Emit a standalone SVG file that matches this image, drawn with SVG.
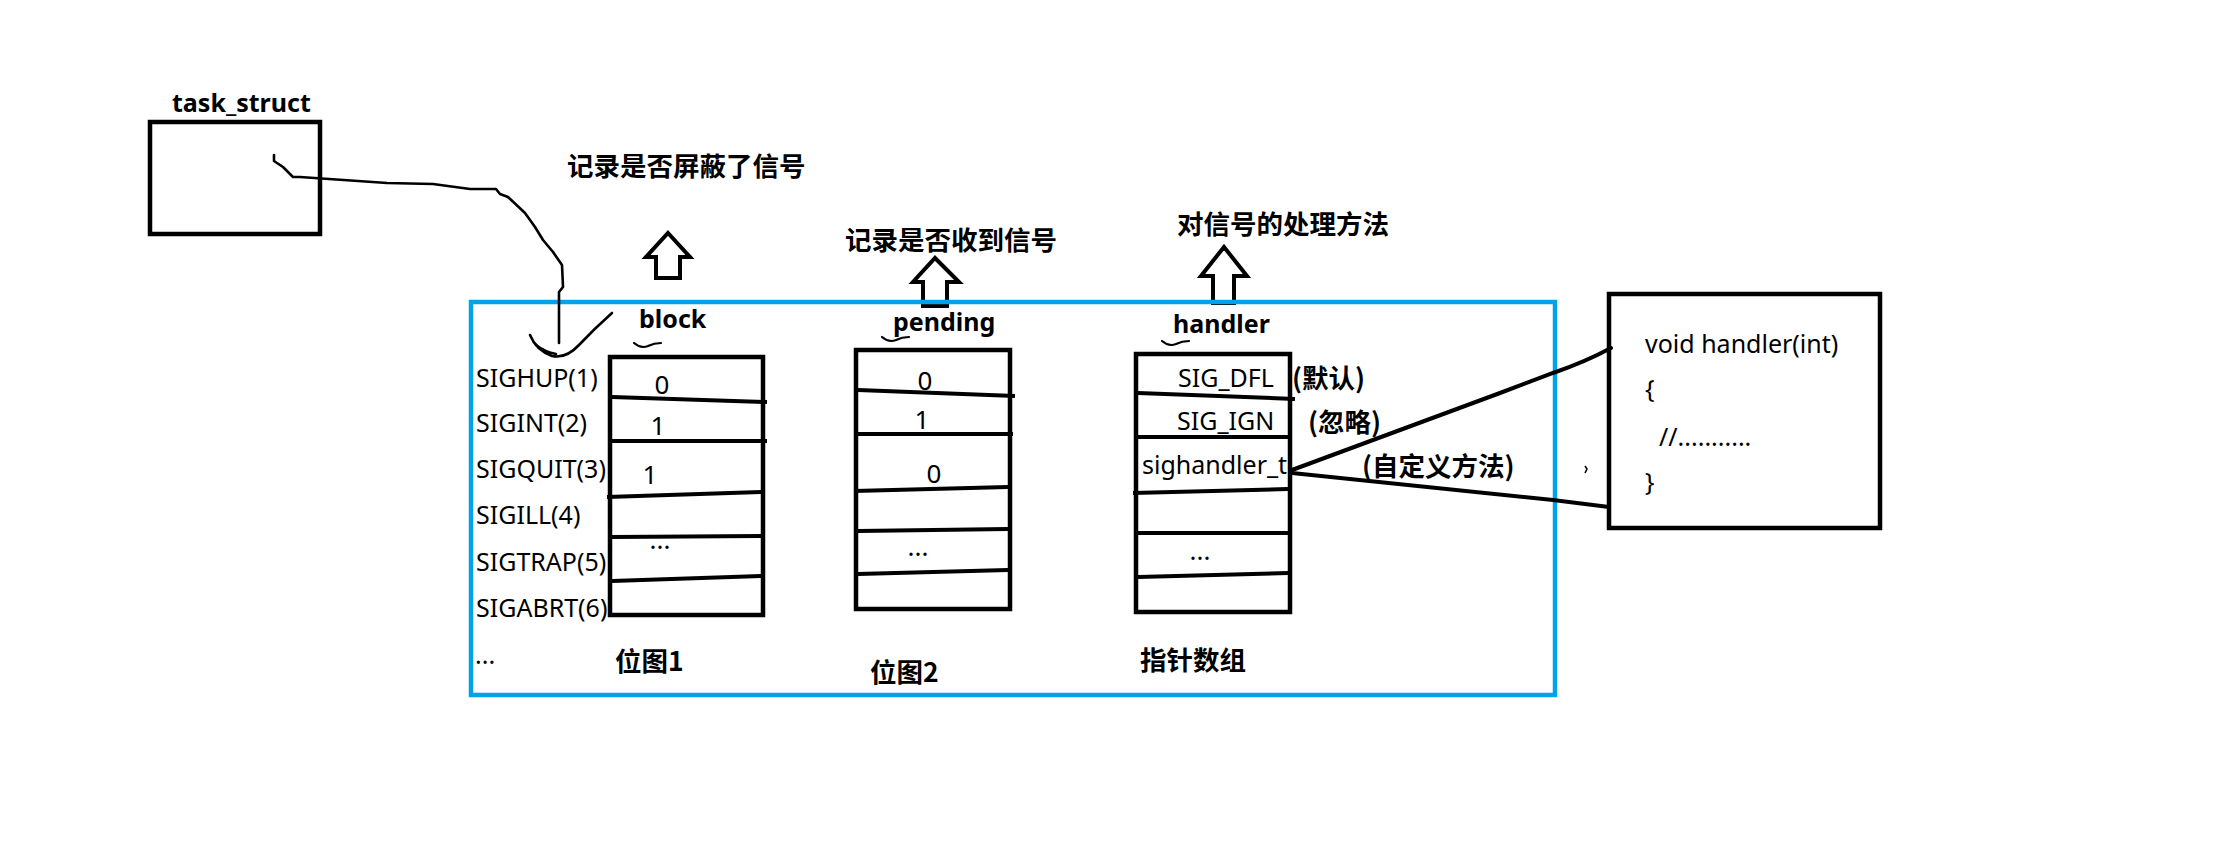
<svg xmlns="http://www.w3.org/2000/svg" width="2232" height="864" viewBox="0 0 2232 864">
<style>
.box{fill:none;stroke:#000;stroke-width:4.5}
.dv{fill:none;stroke:#000;stroke-width:4;stroke-linecap:butt}
.t{font-family:"Noto Sans","Noto Sans CJK SC",sans-serif;font-size:25px;fill:#000}
.b{font-weight:bold}
.v{font-family:"Noto Sans",sans-serif;font-size:26px;fill:#000;text-anchor:middle}
.cjk{font-family:"Noto Sans CJK SC","Noto Sans",sans-serif;font-weight:bold;font-size:26.5px;fill:#000}
.arrow{fill:#fff;stroke:#000;stroke-width:4;stroke-linejoin:miter}
.pen{fill:none;stroke:#000;stroke-width:2.6;stroke-linecap:round;stroke-linejoin:round}
.link{fill:none;stroke:#000;stroke-width:4;stroke-linecap:round}
.mark{fill:none;stroke:#000;stroke-width:2.2;stroke-linecap:round}
</style>
<rect width="2232" height="864" fill="#fff"/>

<g id="task_struct">
<rect class="box" x="150" y="122" width="170" height="112"/>
<text class="t b" x="172" y="112" font-size="24">task_struct</text>
</g>

<g id="annotations">
<text class="cjk" x="567" y="176">记录是否屏蔽了信号</text>
<path class="arrow" d="M668,233 L690,257 L680,257 L680,278 L656,278 L656,257 L646,257 Z"/>
<text class="cjk" x="845" y="250">记录是否收到信号</text>
<path class="arrow" d="M935,258 L959,282 L947,282 L947,306 L923,306 L923,282 L913,282 Z"/>
<text class="cjk" x="1177" y="234">对信号的处理方法</text>
<path class="arrow" d="M1224,247 L1247,276 L1234,276 L1234,303 L1213,303 L1213,276 L1201,276 Z"/>
</g>

<g id="signal_table">
<rect x="471" y="302" width="1084" height="393" fill="none" stroke="#00A2E8" stroke-width="4.5"/>
</g>

<g id="signal_names">
<text class="t" x="476" y="387">SIGHUP(1)</text>
<text class="t" x="476" y="432">SIGINT(2)</text>
<text class="t" x="476" y="478">SIGQUIT(3)</text>
<text class="t" x="476" y="524">SIGILL(4)</text>
<text class="t" x="476" y="571">SIGTRAP(5)</text>
<text class="t" x="476" y="617">SIGABRT(6)</text>
<text class="t" x="475" y="664">...</text>
</g>

<g id="block">
<text class="t b" x="639" y="328">block</text>
<path class="mark" d="M634,343 Q641,349 648,346 Q654,343 661,343"/>
<rect class="box" x="610" y="357" width="153" height="258"/>
<path class="dv" d="M612,397 L767,402 M612,441 L767,441 M607,497 L761,492 M612,537 L761,536 M612,581 L761,576"/>
<text class="v" x="662" y="394">0</text>
<text class="v" x="658" y="435">1</text>
<text class="v" x="650" y="484">1</text>
<text class="v" x="660" y="549">...</text>
<text class="cjk" x="615" y="671">位图1</text>
</g>

<g id="pending">
<text class="t b" x="893" y="331">pending</text>
<path class="mark" d="M882,337 Q889,343 896,340 Q902,337 909,337"/>
<rect class="box" x="856" y="350" width="154" height="259"/>
<path class="dv" d="M858,390 L1015,396 M858,434 L1013,434 M854,491 L1008,487 M858,531 L1008,529 M858,574 L1008,570"/>
<text class="v" x="925" y="390">0</text>
<text class="v" x="922" y="429">1</text>
<text class="v" x="934" y="483">0</text>
<text class="v" x="918" y="556">...</text>
<text class="cjk" x="870" y="682">位图2</text>
</g>

<g id="handler">
<text class="t b" x="1173" y="333" font-size="24.5">handler</text>
<path class="mark" d="M1162,341 Q1169,347 1176,344 Q1182,341 1189,341"/>
<rect class="box" x="1136" y="354" width="154" height="258"/>
<path class="dv" d="M1138,393 L1295,399 M1138,437 L1290,437 M1133,493 L1288,489 M1138,533 L1288,533 M1138,577 L1288,573"/>
<text class="t" x="1178" y="387">SIG_DFL</text>
<text class="t" x="1177" y="430">SIG_IGN</text>
<text class="t" x="1142" y="474">sighandler_t</text>
<text class="v" x="1200" y="560">...</text>
<text class="cjk" x="1292" y="388">(默认)</text>
<text class="cjk" x="1308" y="432">(忽略)</text>
<text class="cjk" x="1362" y="476">(自定义方法)</text>
<text class="cjk" x="1140" y="670">指针数组</text>
</g>

<g id="handler_function">
<rect class="box" x="1609" y="294" width="271" height="234"/>
<text class="t" x="1645" y="353">void handler(int)</text>
<text class="t" x="1645" y="398">{</text>
<text class="t" x="1659" y="446">//...........</text>
<text class="t" x="1645" y="491">}</text>
<path d="M1585,466 L1587,469 L1585,473" fill="none" stroke="#000" stroke-width="1.6"/>
</g>

<g id="connectors">
<path class="pen" d="M274,155 L274,161 L283,167 L293,177 L300,177 L387,183 L433,184 L470,189 L496,189 L500,194 L508,197 L525,213 L535,227 L543,240 L553,252 L562,265 L563,287 L559,292 L559,343"/>
<path class="pen" d="M530,335 Q536,350 552,356 Q566,359 579,345 Q594,329 612,313"/>
<path class="pen" d="M536,345 Q545,352 556,354"/>
<path class="link" d="M1292,470 L1500,393 L1553,373 Q1585,362 1611,348"/>
<path class="link" d="M1292,473 L1553,500 L1609,507"/>
</g>
</svg>
